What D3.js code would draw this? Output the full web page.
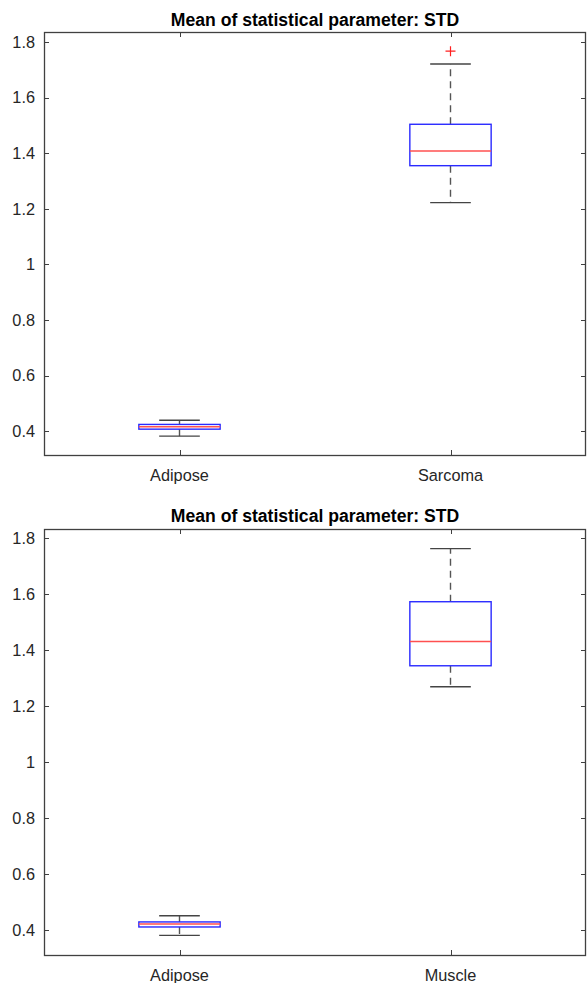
<!DOCTYPE html>
<html>
<head>
<meta charset="utf-8">
<script src="https://cdn.jsdelivr.net/npm/d3@7"></script>
<style>
  body { margin: 0; background: #fff; }
  svg { display: block; font-family: "Liberation Sans", Arial, sans-serif; }
</style>
</head>
<body>
<div id="chart"></div>
<script>
// ---- data ----
var chartTitle = "Mean of statistical parameter: STD";
var yTicks = [0.4, 0.6, 0.8, 1, 1.2, 1.4, 1.6, 1.8];

var topCategories = ["Adipose", "Sarcoma"];
var topLowWhisker = [0.382, 1.222];
var topQ1 = [0.407, 1.355];
var topMedian = [0.416, 1.408];
var topQ3 = [0.424, 1.504];
var topHighWhisker = [0.439, 1.721];
var topOutliers = [[], [1.767]];
var topYLim = [0.314, 1.836];

var botCategories = ["Adipose", "Muscle"];
var botLowWhisker = [0.382, 1.269];
var botQ1 = [0.412, 1.344];
var botMedian = [0.4225, 1.431];
var botQ3 = [0.430, 1.5725];
var botHighWhisker = [0.452, 1.762];
var botOutliers = [[], []];
var botYLim = [0.312, 1.832];

var W = 587, H = 983;
var svg = d3.select("#chart").append("svg")
  .attr("width", W).attr("height", H);

var axisColor = "#404040", textColor = "#262626";

function drawPanel(opts) {
  var left = 44, right = 586;
  var x = d3.scaleLinear().domain([0.5, opts.categories.length + 0.5]).range([left, right]);
  var y = d3.scaleLinear().domain(opts.ylim).range([opts.bottom, opts.top]);
  var g = svg.append("g");
  var tickLen = 5;

  // title
  g.append("text")
    .attr("x", (left + right) / 2)
    .attr("y", opts.titleY)
    .attr("text-anchor", "middle")
    .style("font-size", "17.6px")
    .style("font-weight", "bold")
    .attr("fill", "#000")
    .text(chartTitle);

  // y ticks and labels (ticks mirrored on the right, MATLAB box style)
  yTicks.forEach(function (t) {
    var yy = Math.round(y(t)) + 0.5;
    g.append("line").attr("x1", left).attr("x2", left + tickLen)
      .attr("y1", yy).attr("y2", yy).attr("stroke", axisColor);
    g.append("line").attr("x1", right).attr("x2", right - tickLen)
      .attr("y1", yy).attr("y2", yy).attr("stroke", axisColor);
    g.append("text")
      .attr("x", left - 9)
      .attr("y", y(t))
      .attr("dy", "0.36em")
      .attr("text-anchor", "end")
      .style("font-size", "16.3px")
      .attr("fill", textColor)
      .text(d3.format("~g")(t));
  });

  // x ticks and category labels
  opts.categories.forEach(function (c, i) {
    var xx = Math.round(x(i + 1)) + 0.5;
    g.append("line").attr("x1", xx).attr("x2", xx)
      .attr("y1", opts.bottom).attr("y2", opts.bottom - tickLen).attr("stroke", axisColor);
    g.append("line").attr("x1", xx).attr("x2", xx)
      .attr("y1", opts.top).attr("y2", opts.top + tickLen).attr("stroke", axisColor);
    g.append("text")
      .attr("x", x(i + 1))
      .attr("y", opts.bottom + 26)
      .attr("text-anchor", "middle")
      .style("font-size", "16.3px")
      .attr("fill", textColor)
      .text(c);
  });

  // axes box
  g.append("rect")
    .attr("x", left + 0.5).attr("y", opts.top + 0.5)
    .attr("width", right - left - 1).attr("height", opts.bottom - opts.top)
    .attr("fill", "none").attr("stroke", axisColor).attr("stroke-width", 1.3);

  // boxes
  var boxHalf = 0.15, capHalf = 0.075;
  opts.categories.forEach(function (c, i) {
    var cx = x(i + 1);
    var bx = g.append("g");
    // whiskers (dashed)
    bx.append("line").attr("x1", cx).attr("x2", cx)
      .attr("y1", y(opts.q3[i])).attr("y2", y(opts.hi[i]))
      .attr("stroke", "#555").attr("stroke-width", 1.4).attr("stroke-dasharray", "7,5");
    bx.append("line").attr("x1", cx).attr("x2", cx)
      .attr("y1", y(opts.q1[i])).attr("y2", y(opts.lo[i]))
      .attr("stroke", "#555").attr("stroke-width", 1.4).attr("stroke-dasharray", "7,5");
    // caps
    [opts.hi[i], opts.lo[i]].forEach(function (v) {
      bx.append("line")
        .attr("x1", x(i + 1 - capHalf)).attr("x2", x(i + 1 + capHalf))
        .attr("y1", y(v)).attr("y2", y(v))
        .attr("stroke", "#444").attr("stroke-width", 1.4);
    });
    // box
    bx.append("rect")
      .attr("x", x(i + 1 - boxHalf))
      .attr("y", y(opts.q3[i]))
      .attr("width", x(i + 1 + boxHalf) - x(i + 1 - boxHalf))
      .attr("height", y(opts.q1[i]) - y(opts.q3[i]))
      .attr("fill", "none").attr("stroke", "#2a2aff").attr("stroke-width", 1.4);
    // median
    bx.append("line")
      .attr("x1", x(i + 1 - boxHalf)).attr("x2", x(i + 1 + boxHalf))
      .attr("y1", y(opts.med[i])).attr("y2", y(opts.med[i]))
      .attr("stroke", "#ff5050").attr("stroke-width", 1.5);
    // outliers
    opts.out[i].forEach(function (v) {
      var oy = y(v), s = 5;
      bx.append("path")
        .attr("d", "M" + (cx - s) + "," + oy + "H" + (cx + s) + "M" + cx + "," + (oy - s) + "V" + (oy + s))
        .attr("stroke", "#ff2020").attr("stroke-width", 1.2).attr("fill", "none");
    });
  });
}

drawPanel({
  categories: topCategories, lo: topLowWhisker, q1: topQ1, med: topMedian,
  q3: topQ3, hi: topHighWhisker, out: topOutliers, ylim: topYLim,
  top: 32, bottom: 455, titleY: 26
});

drawPanel({
  categories: botCategories, lo: botLowWhisker, q1: botQ1, med: botMedian,
  q3: botQ3, hi: botHighWhisker, out: botOutliers, ylim: botYLim,
  top: 529, bottom: 955, titleY: 522
});
</script>
</body>
</html>
